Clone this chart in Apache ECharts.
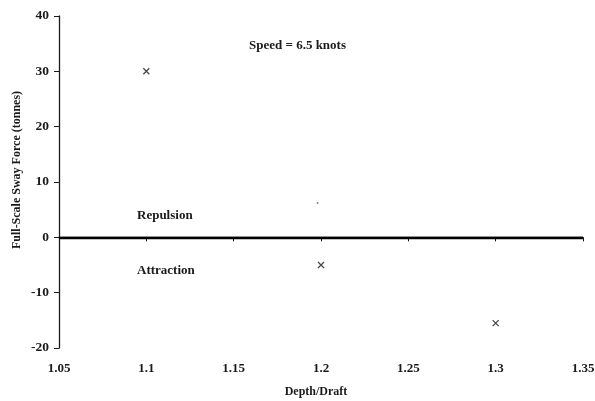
<!DOCTYPE html>
<html>
<head>
<meta charset="utf-8">
<script src="https://cdn.jsdelivr.net/npm/echarts@6/dist/echarts.min.js"></script>
<style>
  html, body { margin: 0; padding: 0; background: #fff; }
  #chart { width: 595px; height: 401px; }
</style>
</head>
<body>
<div id="chart"></div>
<script>
// Depth/draft ratios and measured full-scale sway force (tonnes)
const depthDraft = [1.1, 1.2, 1.3];
const swayForce = [30, -5, -15.5];
// stray small point near 1.2
const extraX = [1.198];
const extraY = [6.2];

const xTicks = ['1.05', '1.1', '1.15', '1.2', '1.25', '1.3', '1.35'];
const yTicks = ['-20', '-10', '0', '10', '20', '30', '40'];

const font = '"Liberation Serif", "DejaVu Serif", serif';
const ink = '#1a1a1a';

const chart = echarts.init(document.getElementById('chart'));
chart.setOption({
  animation: false,
  backgroundColor: '#fff',
  grid: { left: 59, right: 12, top: 16, bottom: 53, containLabel: false, outerBoundsMode: 'none' },
  xAxis: {
    type: 'value',
    min: 1.05, max: 1.35, interval: 0.05,
    axisLine: { show: true, lineStyle: { color: ink, width: 1.3 } },
    axisTick: { show: true, length: 4, lineStyle: { color: ink } },
    axisLabel: {
      fontFamily: font, fontWeight: 'bold', fontSize: 13, color: ink, margin: 14,
      formatter: v => xTicks[Math.round((v - 1.05) / 0.05)]
    },
    splitLine: { show: false }
  },
  yAxis: {
    type: 'value',
    min: -20, max: 40, interval: 10,
    axisLine: { show: true, lineStyle: { color: ink, width: 1.3 } },
    axisTick: { show: true, length: 5, lineStyle: { color: ink } },
    axisLabel: {
      fontFamily: font, fontWeight: 'bold', fontSize: 13.5, color: ink, margin: 10,
      formatter: v => yTicks[Math.round((v + 20) / 10)]
    },
    splitLine: { show: false }
  },
  series: [
    {
      type: 'scatter',
      data: depthDraft.map((x, i) => [x, swayForce[i]]),
      symbol: 'path://M0,0L10,10M10,0L0,10',
      symbolSize: 6,
      itemStyle: { color: 'none', borderColor: ink, borderWidth: 1.3 },
      markLine: {
        silent: true,
        symbol: 'none',
        label: { show: false },
        lineStyle: { color: '#000', width: 2.4, type: 'solid' },
        data: [{ yAxis: 0 }]
      }
    },
    {
      type: 'scatter',
      data: extraX.map((x, i) => [x, extraY[i]]),
      symbol: 'circle',
      symbolSize: 2,
      itemStyle: { color: '#666' }
    }
  ],
  graphic: [
    { type: 'text', x: 17, y: 170, rotation: Math.PI / 2,
      style: { text: 'Full-Scale Sway Force (tonnes)', font: 'bold 12px ' + font, fill: ink,
               align: 'center', verticalAlign: 'middle' } },
    { type: 'text', x: 316, y: 392,
      style: { text: 'Depth/Draft', font: 'bold 12px ' + font, fill: ink,
               align: 'center', verticalAlign: 'middle' } },
    { type: 'text', left: 249, top: 39,
      style: { text: 'Speed = 6.5 knots', font: 'bold 13px ' + font, fill: ink } },
    { type: 'text', left: 137, top: 209,
      style: { text: 'Repulsion', font: 'bold 13px ' + font, fill: ink } },
    { type: 'text', left: 137, top: 264,
      style: { text: 'Attraction', font: 'bold 13px ' + font, fill: ink } }
  ]
});
</script>
</body>
</html>
